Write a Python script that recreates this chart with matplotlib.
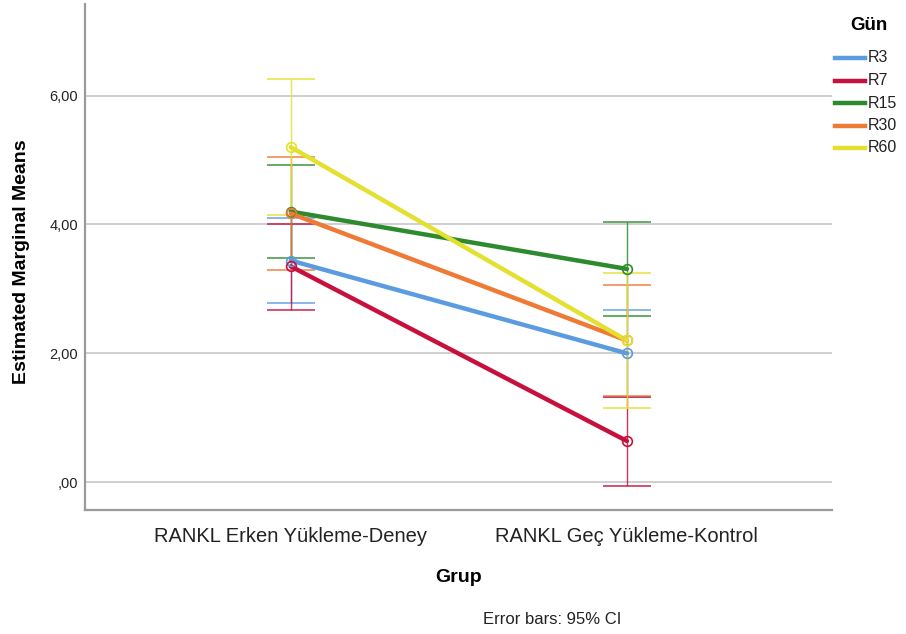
import numpy as np
import matplotlib.pyplot as plt
from matplotlib.lines import Line2D

# group labels and day series
groups = ['RANKL Erken Yükleme-Deney', 'RANKL Geç Yükleme-Kontrol']
days = ['R3', 'R7', 'R15', 'R30', 'R60']

# estimated marginal means and 95% CI bounds per day (Erken, Geç)
means = {
    'R3':  [3.44, 2.00],
    'R7':  [3.35, 0.64],
    'R15': [4.20, 3.31],
    'R30': [4.17, 2.20],
    'R60': [5.20, 2.20],
}
lower = {
    'R3':  [2.78, 1.32],
    'R7':  [2.67, -0.05],
    'R15': [3.48, 2.58],
    'R30': [3.30, 1.34],
    'R60': [4.15, 1.15],
}
upper = {
    'R3':  [4.10, 2.68],
    'R7':  [4.01, 1.33],
    'R15': [4.93, 4.04],
    'R30': [5.04, 3.06],
    'R60': [6.25, 3.25],
}

colors = {
    'R3':  '#5b9be0',
    'R7':  '#c8103c',
    'R15': '#2e8a2e',
    'R30': '#ef7a36',
    'R60': '#e3e030',
}

W, H = 906, 634
fig = plt.figure(figsize=(W/100, H/100), dpi=100)
ax = fig.add_axes([85/W, 1-510/H, (832-85)/W, (510-4)/H])

x = np.arange(len(groups))

# horizontal grid lines
for yv in [0, 2, 4, 6]:
    ax.axhline(yv, color='#cfcfcf', lw=1.4, zorder=0)

for d in days:
    m = np.array(means[d])
    lo = m - np.array(lower[d])
    hi = np.array(upper[d]) - m
    ax.errorbar(x, m, yerr=[lo, hi], fmt='none', ecolor=colors[d],
                elinewidth=1.0, capsize=17.5, capthick=1.2, alpha=0.85, zorder=2)
    ax.plot(x, m, color=colors[d], lw=3.2, zorder=3, solid_capstyle='round')
    ax.plot(x, m, 'o', ms=7, mfc='none', mec=colors[d], mew=1.2, zorder=4)

ax.set_xlim(-0.612, 1.61)
ax.set_ylim(-0.43, 7.42)
ax.set_xticks(x)
ax.set_xticklabels(groups, fontsize=14.5, color='#222222', family='Liberation Sans')
ax.set_yticks([0, 2, 4, 6])
ax.set_yticklabels([',00', '2,00', '4,00', '6,00'], fontsize=10.5,
                   color='#222222', family='Liberation Sans')
ax.tick_params(axis='x', length=0, pad=12)
ax.tick_params(axis='y', length=0, pad=5)

for s in ['top', 'right']:
    ax.spines[s].set_visible(False)
for s in ['left', 'bottom']:
    ax.spines[s].set_color('#9a9a9a')
    ax.spines[s].set_linewidth(1.6)

# axis titles and footnote
fig.text(22/W, 1-262/H, 'Estimated Marginal Means', fontsize=14, fontweight='bold',
         family='Liberation Sans', rotation=90, ha='center', va='center')
fig.text(459/W, 1-577/H, 'Grup', fontsize=14, fontweight='bold',
         family='Liberation Sans', ha='center', va='center')
fig.text(552/W, 1-619/H, 'Error bars: 95% CI', fontsize=12,
         family='Liberation Sans', ha='center', va='center', color='#222222')

# legend drawn by hand at the right edge
fig.text(869/W, 1-25/H, 'Gün', fontsize=13.5, fontweight='bold',
         family='Liberation Sans', ha='center', va='center')
for i, d in enumerate(days):
    yy = 1 - (58 + 22.5*i)/H
    fig.add_artist(Line2D([835/W, 865/W], [yy, yy], color=colors[d], lw=3.2))
    fig.text(868/W, yy, d, fontsize=11.5, family='Liberation Sans',
             ha='left', va='center', color='#222222')

fig.savefig('out.png', dpi=100)
